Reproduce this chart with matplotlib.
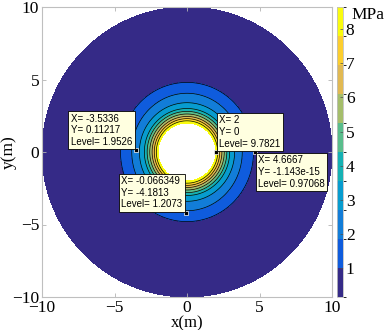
import numpy as np
import matplotlib
matplotlib.use("Agg")
from matplotlib import pyplot as plt
from matplotlib.colors import ListedColormap, BoundaryNorm

plt.rcParams["font.family"] = ["Liberation Serif", "DejaVu Serif"]

# radial stress profiles (MPa), along x and along y
r_nodes = [2.0, 2.15, 2.3, 2.45, 2.62, 2.8, 3.0, 3.4, 4.05, 4.8, 6.0, 8.0, 10.0]
sigma_y = [9.78, 7.8, 6.95, 6.1, 5.25, 4.4, 3.55, 2.7, 1.85, 1.0, 0.55, 0.3, 0.18]
sigma_x = [9.78, 7.55, 6.7, 5.85, 5.0, 4.15, 3.3, 2.45, 1.5, 0.8, 0.5, 0.28, 0.18]

levels = [0.15, 1.0, 1.85, 2.7, 3.55, 4.4, 5.25, 6.1, 6.95, 7.8, 8.65]
cbar_ticks = [1, 2, 3, 4, 5, 6, 7, 8]

# parula, one colour per band
band_colors = [
    (0.2081, 0.1663, 0.5292), (0.0591, 0.3598, 0.8683), (0.0723, 0.4887, 0.8467),
    (0.0265, 0.6137, 0.8135), (0.0843, 0.6928, 0.7062), (0.3482, 0.7424, 0.5473),
    (0.6473, 0.7456, 0.4188), (0.8824, 0.7274, 0.3217), (0.9880, 0.8066, 0.1794),
    (0.9763, 0.9831, 0.0538),
]

# data tips
tip_x = [-3.5336, 2, 4.6667, -0.066349]
tip_y = [0.11217, 0, -1.143e-15, -4.1813]
tip_level = [1.9526, 9.7821, 0.97068, 1.2073]
tip_ha = ["right", "left", "left", "right"]
tip_va = ["bottom", "bottom", "top", "bottom"]

theta = np.linspace(0, 2 * np.pi, 361)
R, T = np.meshgrid(np.array(r_nodes), theta)
Z = np.array(sigma_x) * np.cos(T) ** 2 + np.array(sigma_y) * np.sin(T) ** 2
Z = np.clip(Z, levels[0], levels[-1] - 0.01)
X = R * np.cos(T)
Y = R * np.sin(T)

cmap = ListedColormap(band_colors)
norm = BoundaryNorm(levels, cmap.N)

fig = plt.figure(figsize=(3.9, 3.3), dpi=100)
ax = fig.add_axes([42 / 390, 33 / 330, 290 / 390, 290 / 330])
cf = ax.contourf(X, Y, Z, levels=levels, cmap=cmap, norm=norm)
ax.contour(X, Y, Z, levels=levels[1:-1], colors="k", linewidths=0.5)

ax.set(xlim=(-10, 10), ylim=(-10, 10))
ax.set_xticks([-10, -5, 0, 5, 10])
ax.set_yticks([-10, -5, 0, 5, 10])
ax.tick_params(direction="in", length=3, width=0.6, color="0.7",
               top=True, right=True, labelsize=12.5, pad=2)
for s in ax.spines.values():
    s.set_color("0.75")
    s.set_linewidth(0.8)
ax.set_xlabel("x(m)", fontsize=12, labelpad=-0.5)
ax.yaxis.set_label_coords(-0.088, 0.5)
ax.set_ylabel("y(m)", fontsize=12.5)

for x, y, lv, ha, va in zip(tip_x, tip_y, tip_level, tip_ha, tip_va):
    txt = f"X= {x:.5g}\nY= {y:.5g}\nLevel= {lv:.5g}"
    dx = 2.5 if ha == "left" else -2.5
    dy = 2.5 if va == "bottom" else -2.5
    ax.annotate(txt, (x, y), xytext=(dx, dy), textcoords="offset points",
                ha=ha, va=va, multialignment="left", fontsize=7,
                family="Liberation Sans", linespacing=1.2,
                bbox=dict(boxstyle="square,pad=0.25", fc=(1, 1, 0.88),
                          ec="k", lw=0.6))
    ax.plot(x, y, "s", ms=2.2, color="k", mec="w", mew=0.5)

cax = fig.add_axes([337 / 390, 33 / 330, 6 / 390, 290 / 330])
cb = fig.colorbar(cf, cax=cax, ticks=cbar_ticks)
cb.ax.tick_params(direction="in", length=2, width=0.5, color="0.3",
                  labelsize=12.5, pad=2)
cb.outline.set_edgecolor("0.75")
cb.outline.set_linewidth(0.6)
fig.text(351 / 390, 1 - 15 / 330, "MPa", fontsize=12.5, va="center")

fig.savefig("out.png", dpi=100)
